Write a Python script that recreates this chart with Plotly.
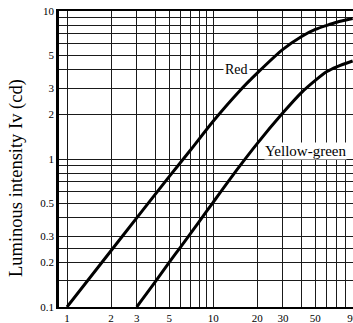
import numpy as np
import plotly.graph_objects as go

# Data
red_x = [1, 2, 3, 5, 7, 10, 15, 20, 30, 40, 50, 60, 70, 90]
red_y = [0.1, 0.24, 0.4, 0.76, 1.15, 1.8, 2.85, 3.8, 5.5, 6.7, 7.5, 8.0, 8.4, 8.9]
yg_x = [3, 4, 5, 6, 8, 10, 15, 20, 30, 40, 50, 60, 70, 90]
yg_y = [0.1, 0.147, 0.2, 0.255, 0.376, 0.51, 0.88, 1.27, 2.05, 2.8, 3.4, 3.9, 4.2, 4.6]

x_grid = [1, 2, 3, 4, 5, 6, 7, 8, 9, 10, 20, 30, 40, 50, 60, 70, 80, 90]
x_labels = {1: "1", 2: "2", 3: "3", 5: "5", 10: "10", 20: "20", 30: "30", 50: "50", 90: "90"}
y_grid = [0.1, 0.15, 0.2, 0.25, 0.3, 0.4, 0.5, 0.6, 0.7, 0.8, 0.9,
          1, 2, 3, 4, 5, 6, 7, 8, 9, 10]
y_labels = {0.1: "0.1", 0.2: "0.2", 0.3: "0.3", 0.5: "0.5", 1: "1",
            2: "2", 3: "3", 5: "5", 10: "10"}

FONT = "Liberation Serif"

fig = go.Figure()
for xs, ys in [(red_x, red_y), (yg_x, yg_y)]:
    fig.add_trace(go.Scatter(x=xs, y=ys, mode="lines",
                             line=dict(color="black", width=3, shape="spline", smoothing=0.8),
                             showlegend=False, hoverinfo="skip"))

x_right = np.log10(90.5)
x_left = -8 * x_right / 286

fig.update_layout(
    width=353, height=323, autosize=False,
    margin=dict(l=59, r=0, t=11, b=16),
    paper_bgcolor="white", plot_bgcolor="white",
    font=dict(family=FONT, color="black", size=11),
    xaxis=dict(type="log", range=[x_left, x_right], automargin=False,
               tickmode="array", tickvals=x_grid,
               ticktext=[x_labels.get(v, "") for v in x_grid],
               showgrid=True, gridcolor="#1a1a1a", gridwidth=1,
               ticks="", ticklabeloverflow="allow",
               showline=True, linecolor="black", linewidth=2, mirror=True,
               zeroline=False, tickfont=dict(family=FONT, size=11)),
    yaxis=dict(type="log", range=[-1, 1], automargin=False,
               tickmode="array", tickvals=y_grid,
               ticktext=[y_labels.get(v, "") for v in y_grid],
               showgrid=True, gridcolor="#1a1a1a", gridwidth=1,
               ticks="", showline=True, linecolor="black", linewidth=2.5,
               zeroline=False, tickfont=dict(family=FONT, size=11)),
)

fig.add_annotation(x=np.log10(14.4), y=np.log10(4), text="Red", showarrow=False,
                   font=dict(family=FONT, size=14, color="black"),
                   bgcolor="white", borderpad=1)
fig.add_annotation(x=np.log10(42.7), y=np.log10(1.13), text="Yellow-green", showarrow=False,
                   font=dict(family=FONT, size=15, color="black"),
                   bgcolor="white", borderpad=0)
fig.add_annotation(xref="paper", yref="paper", x=(16 - 59) / 294, y=(307 - 178) / 296,
                   text="Luminous intensity Iv (cd)", textangle=-90, showarrow=False,
                   xanchor="center", yanchor="middle",
                   font=dict(family=FONT, size=18.5, color="black"))

fig.write_html("out.html")
